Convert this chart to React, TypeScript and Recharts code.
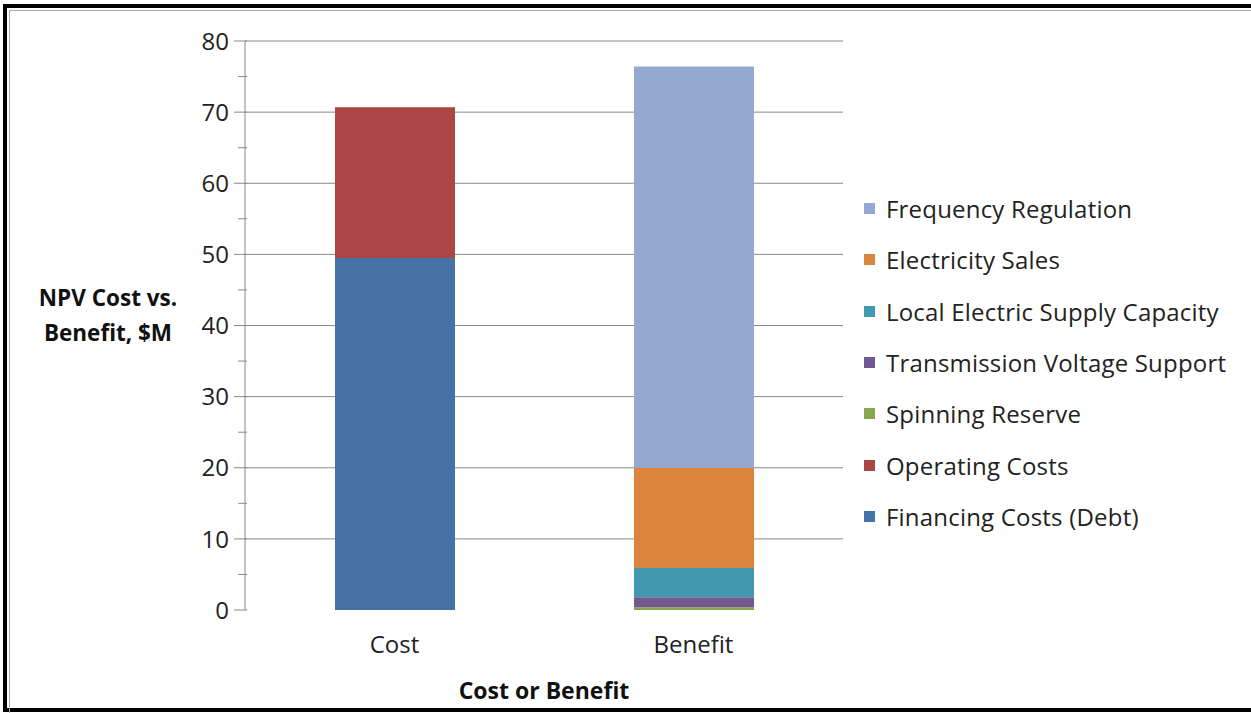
import React from "react";
import { BarChart, Bar, XAxis, YAxis, CartesianGrid } from "recharts";

const categories = ["Cost", "Benefit"];
const financingCosts = [49.5, 0];
const operatingCosts = [21.2, 0];
const spinningReserve = [0, 0.4];
const transmissionVoltage = [0, 1.4];
const localSupply = [0, 4.1];
const electricitySales = [0, 14.1];
const frequencyRegulation = [0, 56.4];
const yTicks = [0, 5, 10, 15, 20, 25, 30, 35, 40, 45, 50, 55, 60, 65, 70, 75, 80];

const series = [
  { key: "financing", name: "Financing Costs (Debt)", color: "#4572A7", values: financingCosts },
  { key: "operating", name: "Operating Costs", color: "#AA4643", values: operatingCosts },
  { key: "spinning", name: "Spinning Reserve", color: "#89A54E", values: spinningReserve },
  { key: "transmission", name: "Transmission Voltage Support", color: "#71588F", values: transmissionVoltage },
  { key: "local", name: "Local Electric Supply Capacity", color: "#4198AF", values: localSupply },
  { key: "electricity", name: "Electricity Sales", color: "#DB843D", values: electricitySales },
  { key: "frequency", name: "Frequency Regulation", color: "#93A9CF", values: frequencyRegulation },
];

const data = categories.map((c, i) => {
  const row: Record<string, any> = { category: c };
  series.forEach((s) => (row[s.key] = s.values[i]));
  return row;
});

const FONT = "'Open Sans', sans-serif";
const AXIS = "#888888";

const YTick = (props: any) => {
  const { x, y, payload } = props;
  const v = payload.value;
  const major = v % 10 === 0;
  return (
    <g>
      <line x1={major ? x - 3 : x + 1} x2={x + 10} y1={y} y2={y} stroke={AXIS} strokeWidth={1} />
      {major && (
        <text x={x - 8} y={y} dy="0.36em" textAnchor="end" fontSize={24} fill="#222" fontFamily={FONT}>
          {v}
        </text>
      )}
    </g>
  );
};

const YLabel = () => (
  <text textAnchor="middle" fontFamily={FONT} fontWeight="bold" fontSize={22.5} fill="#111">
    <tspan x={108} y={306}>NPV Cost vs.</tspan>
    <tspan x={108} y={341}>Benefit, $M</tspan>
  </text>
);

export default function App() {
  return (
    <div style={{ position: "absolute", left: 0, top: 0, width: 1251, height: 713, background: "#fff", overflow: "hidden", fontFamily: FONT }}>
      <div style={{ position: "absolute", left: 3, top: 4, width: 1260, height: 700, border: "4px solid #000" }} />
      <div style={{ position: "absolute", left: 9, top: 10, width: 1260, height: 720, borderLeft: "1px solid #aaa", borderTop: "1px solid #aaa" }} />
      <div style={{ position: "absolute", left: 0, top: 0 }}>
        <BarChart width={1251} height={713} data={data} margin={{ top: 41, right: 408, bottom: 0, left: 0 }}>
          <CartesianGrid horizontal={true} vertical={false} stroke={AXIS} horizontalValues={[10, 20, 30, 40, 50, 60, 70, 80]} />
          <XAxis
            xAxisId="b"
            type="number"
            domain={[0, 2]}
            ticks={[0, 1, 2]}
            height={0}
            axisLine={{ stroke: AXIS }}
            tickLine={{ stroke: AXIS }}
            tickSize={8}
            tick={false}
          />
          <XAxis
            xAxisId="cat"
            dataKey="category"
            height={103}
            axisLine={false}
            tickLine={false}
            tick={{ fontSize: 24, fill: "#222", fontFamily: FONT }}
            tickMargin={20}
            label={{ value: "Cost or Benefit", position: "insideBottom", offset: 14, fontSize: 23, fontWeight: "bold", fill: "#111", fontFamily: FONT }}
          />
          <YAxis
            width={245}
            domain={[0, 80]}
            ticks={yTicks}
            interval={0}
            axisLine={{ stroke: AXIS }}
            tickLine={false}
            tick={<YTick />}
            label={<YLabel />}
          />
          {series.map((s) => (
            <Bar key={s.key} xAxisId="cat" dataKey={s.key} name={s.name} stackId="a" fill={s.color} barSize={120} isAnimationActive={false} />
          ))}
        </BarChart>
      </div>
      <div style={{ position: "absolute", left: 864, top: 183 }}>
        {[...series].reverse().map((s) => (
          <div key={s.key} style={{ display: "flex", alignItems: "center", height: 51.3 }}>
            <div style={{ width: 11, height: 11, background: s.color, marginRight: 11 }} />
            <span style={{ fontSize: 24, letterSpacing: 0.2, color: "#222", whiteSpace: "nowrap" }}>{s.name}</span>
          </div>
        ))}
      </div>
    </div>
  );
}
